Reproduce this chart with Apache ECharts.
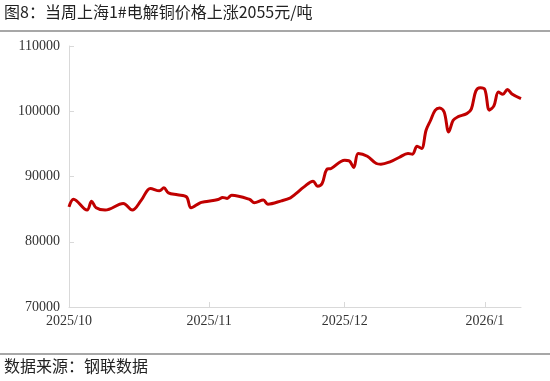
<!DOCTYPE html>
<html>
<head>
<meta charset="utf-8">
<script src="https://cdn.jsdelivr.net/npm/echarts@6/dist/echarts.min.js"></script>
<style>html,body{margin:0;padding:0;background:#fff;}#c{width:550px;height:381px;}</style>
</head>
<body>
<div id="c"></div>
<script>
var titleText = '图8：当周上海1#电解铜价格上涨2055元/吨';
var sourceText = '数据来源：钢联数据';
var dates = [
 '2025-10-01','2025-10-02','2025-10-05','2025-10-06','2025-10-07','2025-10-09','2025-10-13','2025-10-15',
 '2025-10-17','2025-10-19','2025-10-21','2025-10-22','2025-10-23','2025-10-25','2025-10-27','2025-10-28',
 '2025-10-30','2025-10-31','2025-11-03','2025-11-04','2025-11-05','2025-11-06','2025-11-10','2025-11-11',
 '2025-11-13','2025-11-14','2025-11-17','2025-11-19','2025-11-20','2025-11-22','2025-11-24','2025-11-25',
 '2025-11-26','2025-11-27','2025-11-28','2025-12-01','2025-12-02','2025-12-03','2025-12-04','2025-12-06',
 '2025-12-08','2025-12-09','2025-12-11','2025-12-13','2025-12-15','2025-12-16','2025-12-17','2025-12-18',
 '2025-12-19','2025-12-20','2025-12-21','2025-12-22','2025-12-23','2025-12-24','2025-12-25','2025-12-26',
 '2025-12-28','2025-12-29','2025-12-30','2025-12-31','2026-01-01','2026-01-02','2026-01-03','2026-01-04',
 '2026-01-05','2026-01-06','2026-01-07','2026-01-09'
];
var prices = [
 85350,86530,84850,86220,85200,84850,85850,84850,
 86380,88170,87800,88260,87500,87200,86880,85200,
 85970,86120,86480,86790,86640,87140,86480,85970,
 86380,85760,86270,86730,87250,88410,89290,88520,
 88930,91070,91230,92500,92400,91380,93530,93110,
 91990,91890,92240,92910,93530,93420,94640,94290,
 97090,98620,100150,100500,99890,96830,98620,99130,
 99640,100320,103080,103590,103330,100170,100820,102950,
 102600,103330,102650,101930
];
var xMin = '2025-10-01';
var xMax = '2026-01-09';
var yMin = 70000, yMax = 110000, yStep = 10000;

var chart = echarts.init(document.getElementById('c'), null, {renderer:'canvas'});
var seriesData = dates.map(function(d,i){ return [d, prices[i]]; });
chart.setOption({
  animation:false,
  backgroundColor:'#fff',
  grid:{left:69, right:29, top:46, bottom:74, containLabel:false},
  graphic:[
    {type:'text', left:4, top:4, style:{text:titleText, font:'16px "Noto Sans CJK SC"', fill:'#222'}},
    {type:'line', shape:{x1:0,y1:31,x2:550,y2:31}, style:{stroke:'#8a8a8a', lineWidth:1.5}},
    {type:'line', shape:{x1:0,y1:354,x2:550,y2:354}, style:{stroke:'#8a8a8a', lineWidth:1.5}},
    {type:'text', left:4, top:358, style:{text:sourceText, font:'16px "Noto Sans CJK SC"', fill:'#222'}}
  ],
  xAxis:{
    type:'time', min:xMin, max:xMax,
    minInterval: 28*24*3600*1000, maxInterval: 31*24*3600*1000,
    axisLine:{show:true, lineStyle:{color:'#d9d9d9', width:1}},
    axisTick:{show:true, inside:true, length:5, lineStyle:{color:'#d9d9d9'}},
    splitLine:{show:false},
    axisLabel:{formatter:'{yyyy}/{M}', fontFamily:'"Liberation Serif"', fontSize:14, color:'#333', margin:7, showMinLabel:true, showMaxLabel:false, hideOverlap:false}
  },
  yAxis:{
    type:'value', min:yMin, max:yMax, interval:yStep,
    axisLine:{show:true, lineStyle:{color:'#d9d9d9', width:1}},
    axisTick:{show:true, inside:true, length:5, lineStyle:{color:'#d9d9d9'}},
    splitLine:{show:false},
    axisLabel:{formatter:function(v){return String(v);}, fontFamily:'"Liberation Serif"', fontSize:14, color:'#333', margin:9}
  },
  series:[{
    type:'line', data:seriesData, smooth:0.35, showSymbol:false,
    lineStyle:{color:'#C00000', width:3}, itemStyle:{color:'#C00000'}
  }]
});
</script>
</body>
</html>
